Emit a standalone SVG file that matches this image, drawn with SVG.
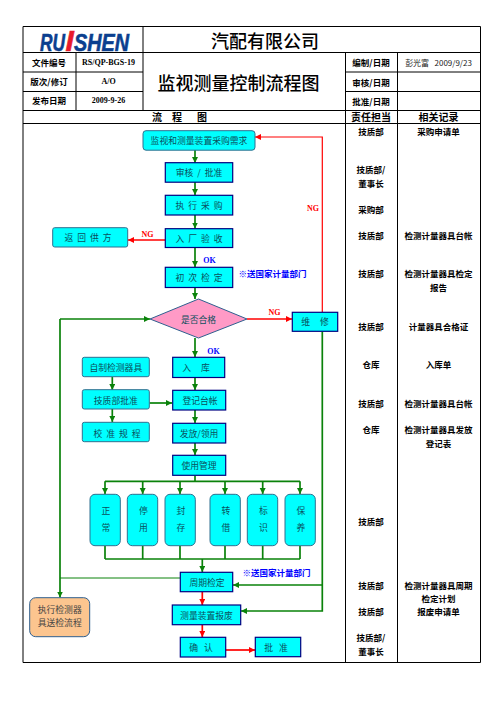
<svg xmlns="http://www.w3.org/2000/svg" width="496" height="702" viewBox="0 0 496 702">
<style>
text{font-family:"Noto Sans CJK SC","Liberation Sans",sans-serif;text-anchor:middle;dominant-baseline:central;white-space:pre}
.t{fill:#000;font-weight:700;font-size:8.500px}
.h{fill:#000;font-weight:700;font-size:10px}
.v{font-family:"Liberation Serif","Noto Sans CJK SC",serif;font-weight:700;font-size:8px;fill:#000}
.n{fill:#0b4f5c;font-size:8.800px}
.b{fill:#0ff;stroke:#000080;stroke-width:1.200}
.r{fill:#0ff;stroke:#2f6f8f;stroke-width:1}
.g{fill:none;stroke:#0a820a;stroke-width:1.700}
.ga{fill:none;stroke:#0a820a;stroke-width:1.700;marker-end:url(#ag)}
.ra{fill:none;stroke:#f00;stroke-width:1.700;marker-end:url(#ar)}
.ng{fill:#f00;font-family:"Liberation Serif",serif;font-weight:700;font-size:8px}
.ok{fill:#00f;font-family:"Liberation Serif",serif;font-weight:700;font-size:8px}
.bl{fill:#00f;font-weight:700;font-size:8.500px}
.l{stroke:#000;stroke-width:1;fill:none}
</style>
<defs>
<marker id="ag" markerUnits="userSpaceOnUse" markerWidth="7" markerHeight="7" refX="6" refY="3" orient="auto"><path d="M0 0L6 3L0 6Z" fill="#0a820a"/></marker>
<marker id="ar" markerUnits="userSpaceOnUse" markerWidth="7" markerHeight="7" refX="6" refY="3" orient="auto"><path d="M0 0L6 3L0 6Z" fill="#f00"/></marker>
</defs>
<rect width="496" height="702" fill="#fff"/>
<g id="table">
<path class="l" d="M23 26.500H480.500V662.500H23ZM23 52.500H480.500M23 72H143M345.500 72H480.500M23 91.500H143M345.500 91.500H480.500M23 110.500H480.500M23 123.500H480.500M76 52.500V110.500M143 26.500V110.500M345.500 52.500V662.500M397.500 52.500V662.500"/>
<text x="0" y="0" stroke="#0b3f8f" stroke-width="0.600" style="font-family:'Liberation Sans',sans-serif;font-weight:700;font-style:italic;font-size:24px;dominant-baseline:auto;text-anchor:start" fill="#0b3f8f"><tspan x="40" y="51" textLength="25" lengthAdjust="spacingAndGlyphs">RU</tspan><tspan x="65.500" y="51" fill="#e8192c" stroke="#e8192c" font-size="30">I</tspan><tspan x="74" y="51" textLength="55" lengthAdjust="spacingAndGlyphs">SHEN</tspan></text>
<text x="265" y="39.500" font-size="18" font-weight="500" fill="#000">汽配有限公司</text>
<text x="238.500" y="82" font-size="18" font-weight="500" fill="#000">监视测量控制流程图</text>
<text class="t" x="49" y="62">文件编号</text>
<text class="t" x="49" y="81">版次/修订</text>
<text class="t" x="49" y="100">发布日期</text>
<text class="v" x="108.500" y="62">RS/QP-BGS-19</text>
<text class="v" x="108.500" y="81">A/O</text>
<text class="v" x="108.500" y="100">2009-9-26</text>
<text class="t" x="371" y="62">编制/日期</text>
<text class="t" x="371" y="81.500">审核/日期</text>
<text class="t" x="371" y="100.500">批准/日期</text>
<text x="438.500" y="62" font-size="8" fill="#222">彭光富   2009/9/23</text>
<text class="h" x="157" y="116.500">流</text>
<text class="h" x="177" y="116.500">程</text>
<text class="h" x="202" y="116.500">图</text>
<text class="h" x="371" y="116.500">责任担当</text>
<text class="h" x="438.500" y="116.500">相关记录</text>
<text class="t" x="371" y="131">技质部</text>
<text class="t" x="371" y="169">技质部/</text>
<text class="t" x="371" y="183">董事长</text>
<text class="t" x="371" y="209">采购部</text>
<text class="t" x="371" y="235">技质部</text>
<text class="t" x="371" y="273">技质部</text>
<text class="t" x="371" y="326">技质部</text>
<text class="t" x="371" y="364">仓库</text>
<text class="t" x="371" y="403">技质部</text>
<text class="t" x="371" y="429">仓库</text>
<text class="t" x="371" y="521">技质部</text>
<text class="t" x="371" y="585">技质部</text>
<text class="t" x="371" y="611">技质部</text>
<text class="t" x="371" y="637">技质部/</text>
<text class="t" x="371" y="651">董事长</text>
<text class="t" x="438.500" y="131">采购申请单</text>
<text class="t" x="438.500" y="235">检测计量器具台帐</text>
<text class="t" x="438.500" y="273">检测计量器具检定</text>
<text class="t" x="438.500" y="287">报告</text>
<text class="t" x="438.500" y="326">计量器具合格证</text>
<text class="t" x="438.500" y="364">入库单</text>
<text class="t" x="438.500" y="403">检测计量器具台帐</text>
<text class="t" x="438.500" y="429">检测计量器具发放</text>
<text class="t" x="438.500" y="443">登记表</text>
<text class="t" x="438.500" y="585">检测计量器具周期</text>
<text class="t" x="438.500" y="598">检定计划</text>
<text class="t" x="438.500" y="611">报废申请单</text>
</g>
<g id="connectors">
<path class="ga" d="M195 150V163"/>
<path class="ga" d="M195 182V195"/>
<path class="ga" d="M195 215V228.500"/>
<path class="ga" d="M195 247.500V267"/>
<path class="ga" d="M195 287.500V299"/>
<path class="ga" d="M195 338V357"/>
<path class="ga" d="M195 377.500V390"/>
<path class="ga" d="M195 410V423"/>
<path class="ga" d="M195 443V455"/>
<path class="ra" d="M165 240H128"/>
<path class="ra" d="M247 319H292"/>
<path class="ra" d="M322.300 312V137H255" style="stroke-width:1.200"/>
<path class="ga" d="M112.300 377V390"/>
<path class="ga" d="M112.300 409V422"/>
<path class="ga" d="M149.500 403H172"/>
<path class="g" d="M195 475.500V481.300M105 481.300H300"/>
<path class="ga" d="M105 481.300V494"/>
<path class="ga" d="M142.700 481.300V494"/>
<path class="ga" d="M180 481.300V494"/>
<path class="ga" d="M225 481.300V494"/>
<path class="ga" d="M262.700 481.300V494"/>
<path class="ga" d="M300 481.300V494"/>
<path class="g" d="M105 546V559M142.700 546V559M180 546V559M225 546V559M262.700 546V559M300 546V559M105 559H300"/>
<path class="ga" d="M202.300 559V572"/>
<path class="ga" d="M60 319H150"/>
<path class="ga" d="M60 319V597.500"/>
<path d="M180 578H60" stroke="#0a820a" stroke-width="1" fill="none"/>
<path class="ga" d="M322.300 331.500V611H241"/>
<path class="ga" d="M322.300 585H233"/>
<path class="ra" d="M202.300 592V605"/>
<path class="ra" d="M202.300 625V637"/>
<path class="ra" d="M225.700 650H255"/>
</g>
<g id="n-purchase"><rect class="r" x="143" y="130.700" width="112" height="19.500" rx="3"/><text class="n" x="199" y="140.500">监视和测量装置采购需求</text></g>
<g id="n-review"><rect class="b" x="165.300" y="162.700" width="67.400" height="19.500"/><text class="n" x="199" y="172">审核  /  批准</text></g>
<g id="n-buy"><rect class="b" x="165.300" y="195.300" width="67.400" height="19.700"/><text class="n" x="199" y="205">执  行  采  购</text></g>
<g id="n-accept"><rect class="b" x="165.300" y="228.700" width="67.400" height="18.800"/><text class="n" x="199" y="238">入  厂  验  收</text></g>
<g id="n-return"><rect class="r" x="52.700" y="227.700" width="75" height="19.300" rx="2"/><text class="n" x="88" y="237.500">返  回  供  方</text></g>
<g id="n-first"><rect class="b" x="165.300" y="267.300" width="67.400" height="20.200"/><text class="n" x="199" y="277.500">初  次  检  定</text></g>
<g id="n-decision"><path d="M150 319L198.500 299L247 319L198.500 338Z" fill="#ff9ac6" stroke="#2f5f8f"/><text class="n" x="198.500" y="319">是否合格</text></g>
<g id="n-repair"><rect class="b" x="292.300" y="312.300" width="45.400" height="19"/><text class="n" x="315" y="321.500">维     修</text></g>
<g id="n-store"><rect class="b" x="172.700" y="357.300" width="52" height="20.200"/><text class="n" x="196" y="367">入     库</text></g>
<g id="n-ledger"><rect class="b" x="172.700" y="390.300" width="53" height="19.700"/><text class="n" x="200" y="400">登记台帐</text></g>
<g id="n-issue"><rect class="b" x="172.700" y="423.300" width="53" height="19.700"/><text class="n" x="199" y="433">发放/领用</text></g>
<g id="n-use"><rect class="b" x="172.700" y="455.300" width="53" height="20"/><text class="n" x="199" y="465.500">使用管理</text></g>
<g id="n-self"><rect class="r" x="82.300" y="357.300" width="67" height="19.400" rx="2"/><text class="n" x="115.800" y="367.500">自制检测器具</text></g>
<g id="n-approve"><rect class="r" x="82.300" y="389.700" width="67" height="19.300" rx="2"/><text class="n" x="115.800" y="400">技质部批准</text></g>
<g id="n-proc"><rect class="r" x="82.300" y="422.300" width="67" height="19.400" rx="2"/><text class="n" x="117" y="433">校  准  规  程</text></g>
<g id="n-s1"><rect class="r" x="90" y="494.300" width="30.300" height="51.400" rx="5"/><text class="n" x="106" y="510">正</text><text class="n" x="106" y="527.700">常</text></g>
<g id="n-s2"><rect class="r" x="127.300" y="494.300" width="30.400" height="51.400" rx="5"/><text class="n" x="143.300" y="510">停</text><text class="n" x="143.300" y="527.700">用</text></g>
<g id="n-s3"><rect class="r" x="165" y="494.300" width="30.300" height="51.400" rx="5"/><text class="n" x="181" y="510">封</text><text class="n" x="181" y="527.700">存</text></g>
<g id="n-s4"><rect class="r" x="210" y="494.300" width="30.300" height="51.400" rx="5"/><text class="n" x="226" y="510">转</text><text class="n" x="226" y="527.700">借</text></g>
<g id="n-s5"><rect class="r" x="247.300" y="494.300" width="30.400" height="51.400" rx="5"/><text class="n" x="263.300" y="510">标</text><text class="n" x="263.300" y="527.700">识</text></g>
<g id="n-s6"><rect class="r" x="285" y="494.300" width="30.300" height="51.400" rx="5"/><text class="n" x="301" y="510">保</text><text class="n" x="301" y="527.700">养</text></g>
<g id="n-period"><rect class="b" x="180.300" y="572.300" width="52.400" height="19.400"/><text class="n" x="207" y="582">周期检定</text></g>
<g id="n-scrap"><rect class="b" x="172.300" y="605" width="68.400" height="19.700"/><text class="n" x="206.500" y="615">测量装置报废</text></g>
<g id="n-confirm"><rect class="b" x="180.300" y="637.300" width="45.400" height="19.700"/><text class="n" x="201" y="647">确   认</text></g>
<g id="n-ok"><rect class="b" x="255.300" y="637.300" width="45.400" height="19.400"/><text class="n" x="276" y="647">批   准</text></g>
<g id="n-send"><rect x="29.700" y="597.700" width="60" height="39" rx="6" fill="#fcc58f" stroke="#2f5f8f" stroke-width="1"/><text class="n" x="59.700" y="609.500" style="fill:#444">执行检测器</text><text class="n" x="59.700" y="622" style="fill:#444">具送检流程</text></g>
<g id="labels">
<text class="ng" x="313" y="208">NG</text>
<text class="ng" x="147.500" y="234">NG</text>
<text class="ng" x="274.500" y="312">NG</text>
<text class="ok" x="209.500" y="260">OK</text>
<text class="ok" x="213.500" y="351">OK</text>
<text class="bl" x="272.500" y="273.300">※送国家计量部门</text>
<text class="bl" x="276.500" y="572.300">※送国家计量部门</text>
</g>
</svg>
